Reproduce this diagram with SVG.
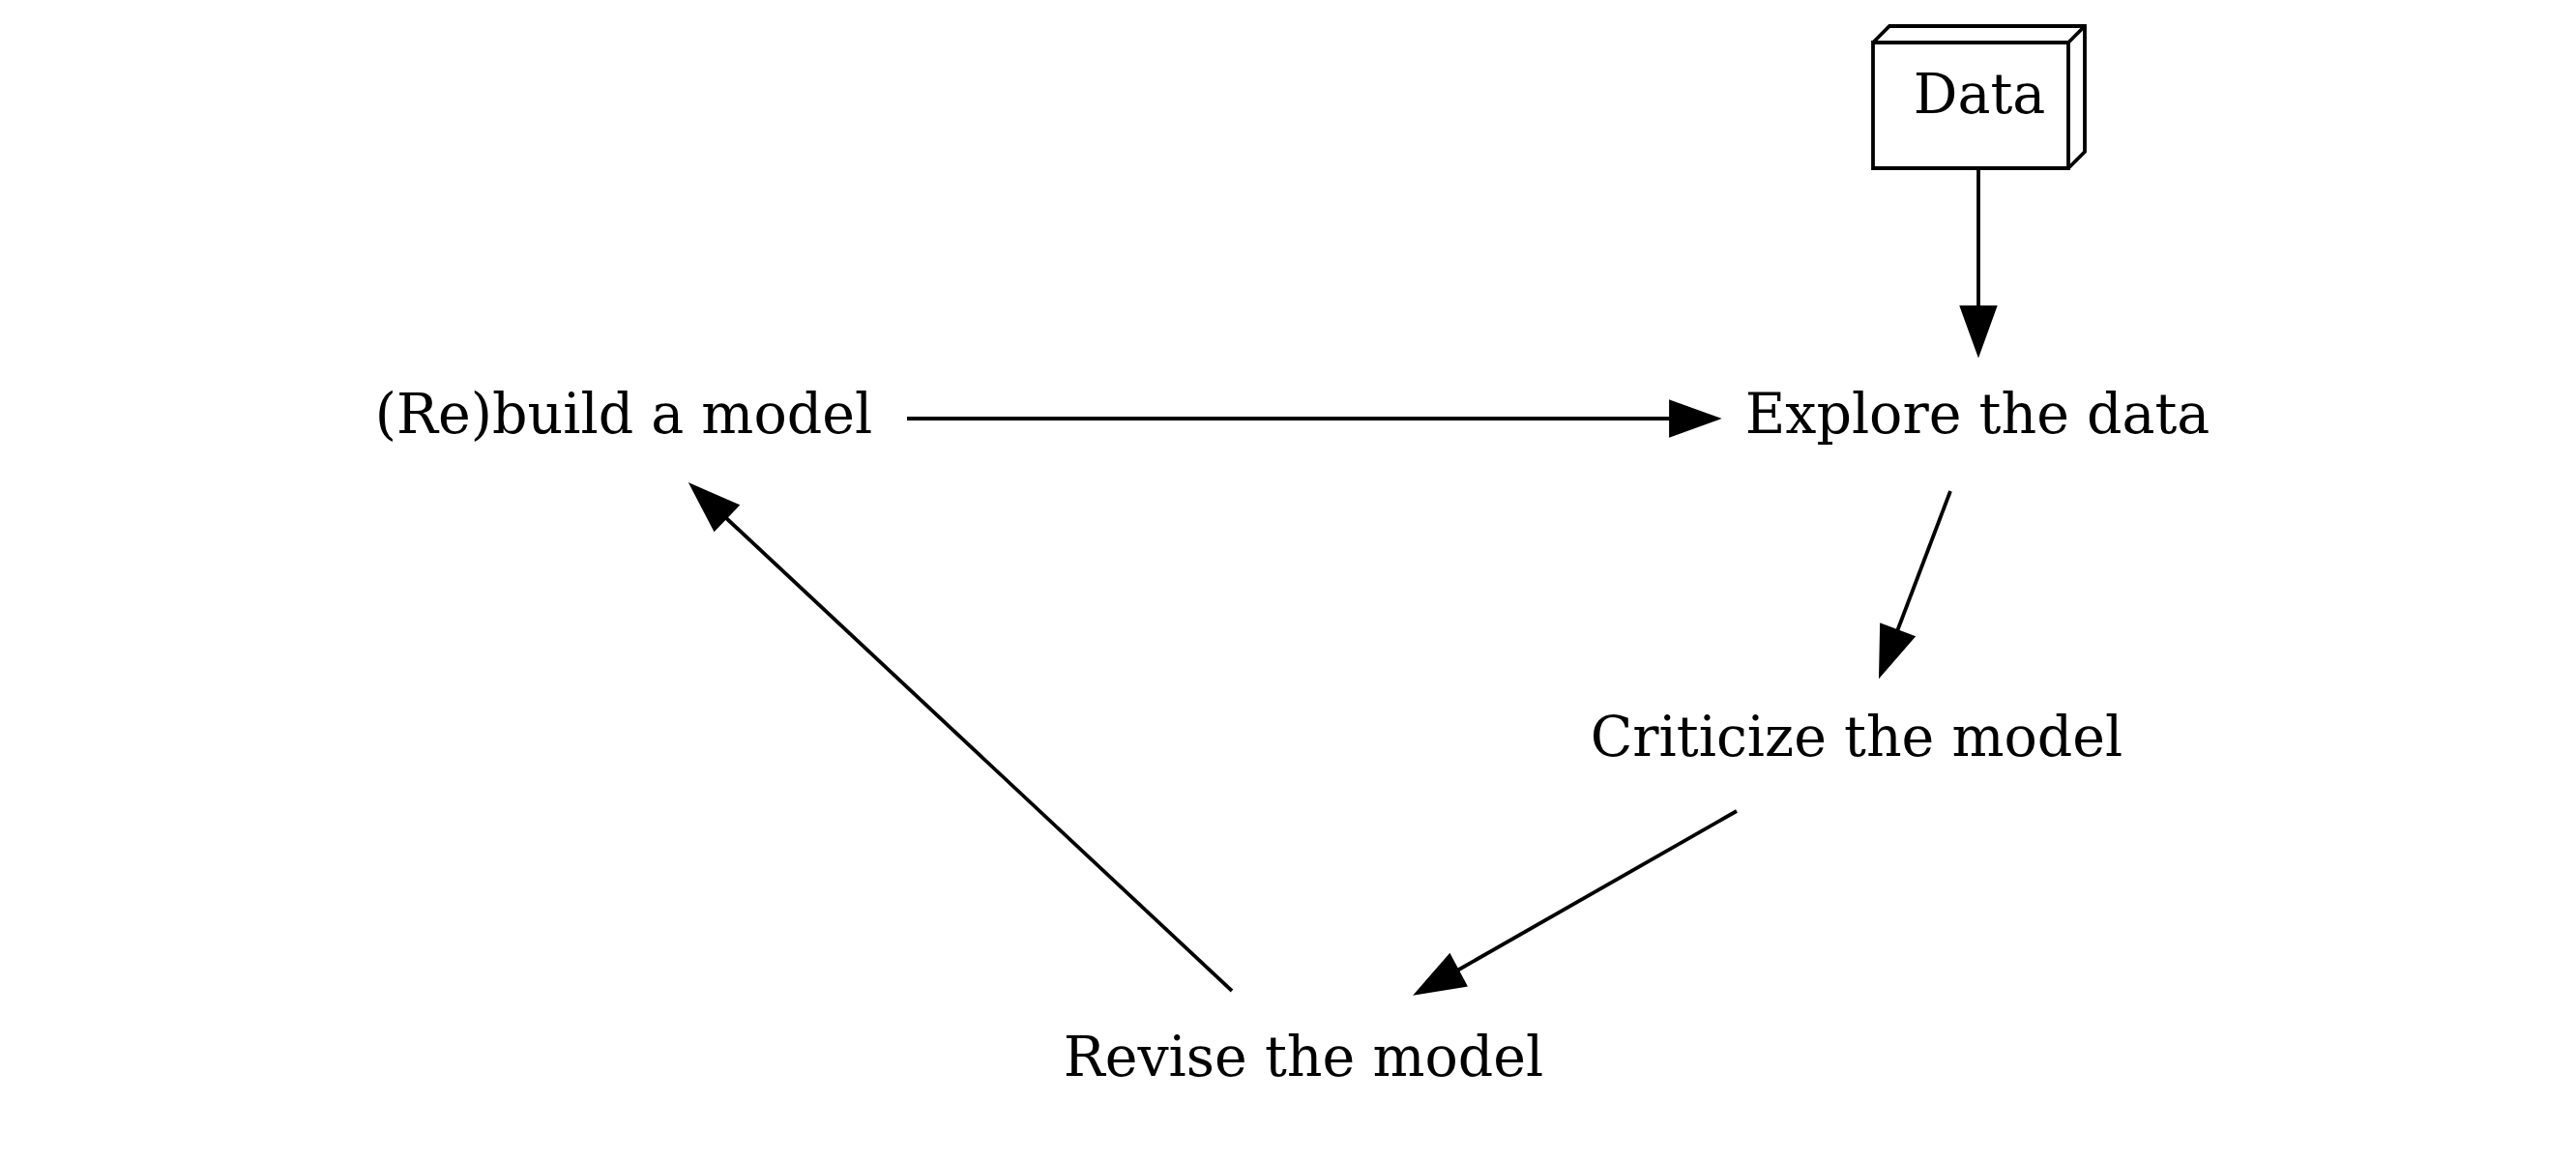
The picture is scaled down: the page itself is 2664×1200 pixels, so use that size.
<svg xmlns="http://www.w3.org/2000/svg" width="2664" height="1200" viewBox="0 0 2664 1200">
<style>
.lbl{font-family:"DejaVu Serif","Liberation Serif",serif;font-size:57px;fill:#000;text-anchor:middle}
.edge{stroke:#000;stroke-width:3.8;fill:none}
.head{fill:#000;stroke:#000;stroke-width:3.8;stroke-linejoin:miter}
.shape{stroke:#000;stroke-width:3.8;fill:none;stroke-linejoin:miter}
</style>
<rect width="2664" height="1200" fill="#fff"/>
<g id="node-data">
<polygon class="shape" points="1937,44 2139,44 2139,174 1937,174"/>
<polyline class="shape" points="1937,44 1954,27 2156,27 2156,157 2139,174"/>
<line class="shape" x1="2139" y1="44" x2="2156" y2="27"/>
<text class="lbl" x="2047" y="117">Data</text>
</g>
<g id="node-rebuild"><text class="lbl" x="645" y="448">(Re)build a model</text></g>
<g id="node-explore"><text class="lbl" x="2045" y="448">Explore the data</text></g>
<g id="node-criticize"><text class="lbl" x="1920" y="782">Criticize the model</text></g>
<g id="node-revise"><text class="lbl" x="1348" y="1113">Revise the model</text></g>
<g id="connectors">
<line class="edge" x1="2046" y1="174" x2="2046" y2="318"/>
<polygon class="head" points="2029,318 2046,365 2063,318"/>
<line class="edge" x1="938" y1="433" x2="1728" y2="433"/>
<polygon class="head" points="1728,416 1775,433 1728,450"/>
<line class="edge" x1="2017" y1="508" x2="1962" y2="653"/>
<polygon class="head" points="1978,659 1945,697 1946,647"/>
<line class="edge" x1="1796" y1="839" x2="1507" y2="1004"/>
<polygon class="head" points="1515,1019 1466,1027 1499,989"/>
<line class="edge" x1="1274" y1="1025" x2="750" y2="535"/>
<polygon class="head" points="762,523 716,503 739,547"/>
</g>
</svg>
